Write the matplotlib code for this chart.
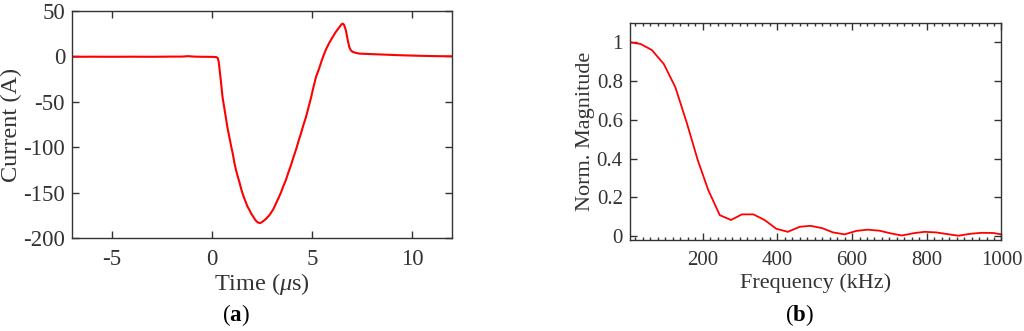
import matplotlib
matplotlib.use("Agg")
import matplotlib.pyplot as plt
from matplotlib.ticker import MultipleLocator

plt.rcParams['font.family'] = ['Liberation Serif', 'DejaVu Serif']
plt.rcParams['mathtext.fontset'] = 'custom'
plt.rcParams['mathtext.rm'] = 'Liberation Serif'
plt.rcParams['mathtext.it'] = 'Liberation Serif:italic'
plt.rcParams['mathtext.bf'] = 'Liberation Serif:bold'

# (a) current pulse
time_us = [-7.0, -6.0, -5.0, -4.0, -3.0, -2.0, -1.5, -1.2, -0.9, -0.5, 0.0, 0.2, 0.28,
           0.33, 0.37, 0.45, 0.53, 0.62, 0.7, 0.78, 0.87, 0.96, 1.05, 1.12, 1.2, 1.3,
           1.38, 1.45, 1.53, 1.62, 1.7, 1.78, 1.87, 1.96, 2.05, 2.12, 2.2, 2.3, 2.4,
           2.47, 2.53, 2.62, 2.7, 2.78, 2.87, 2.96, 3.05, 3.12, 3.2, 3.32, 3.45, 3.57,
           3.7, 3.82, 3.95, 4.07, 4.2, 4.32, 4.45, 4.57, 4.7, 4.82, 4.95, 5.07, 5.2,
           5.35, 5.5, 5.6, 5.7, 5.87, 6.03, 6.2, 6.37, 6.47, 6.53, 6.6, 6.7, 6.78,
           6.87, 6.95, 7.03, 7.2, 7.37, 7.9, 8.5, 9.3, 10.2, 11.0, 12.0]
current_a = [-0.5, -0.4, -0.5, -0.4, -0.5, -0.3, -0.3, 0.2, -0.3, -0.5, -0.6, -0.8, -1.5,
             -5.0, -12.0, -28.0, -45.0, -57.0, -68.0, -79.0, -89.0, -99.0, -108.0,
             -117.0, -125.0, -133.0, -139.0, -145.0, -151.0, -156.5, -161.0, -165.5,
             -169.0, -173.0, -176.0, -178.5, -181.0, -183.0, -183.5, -183.0, -182.0,
             -180.5, -179.0, -177.0, -175.0, -172.0, -169.0, -166.0, -162.0, -156.5,
             -150.0, -143.0, -136.0, -128.0, -120.0, -111.5, -103.0, -94.0, -85.0,
             -76.0, -67.0, -57.0, -46.0, -34.5, -23.0, -14.0, -4.0, 2.0, 7.5, 15.0,
             21.0, 27.0, 32.0, 35.0, 36.0, 35.0, 28.5, 19.0, 10.0, 6.5, 5.0, 3.8, 3.0,
             2.5, 2.0, 1.3, 0.7, 0.3, 0.0]

# (b) normalised spectrum
freq_khz = [5, 34, 64, 96, 127, 158, 187, 215, 246, 276, 305, 336, 366, 397, 428, 460,
            489, 520, 549, 580, 612, 642, 673, 704, 733, 765, 794, 825, 856, 885, 917,
            947, 978, 1000]
norm_mag = [1.0, 0.991, 0.96, 0.888, 0.768, 0.582, 0.392, 0.238, 0.108, 0.083, 0.112,
            0.112, 0.083, 0.038, 0.022, 0.048, 0.053, 0.041, 0.019, 0.009, 0.027, 0.033,
            0.028, 0.014, 0.003, 0.015, 0.022, 0.019, 0.010, 0.002, 0.012, 0.017, 0.016,
            0.009]

fig = plt.figure(figsize=(10.24, 3.31), dpi=100)
ax1 = fig.add_axes([0.0703, 0.281, 0.371, 0.686])
ax2 = fig.add_axes([0.615, 0.275, 0.363, 0.656])

for ax in (ax1, ax2):
    for s in ax.spines.values():
        s.set_color('#333333')
        s.set_linewidth(1.0)
    ax.tick_params(which='both', direction='in', top=True, right=True, color='#333333')
    ax.tick_params(which='major', length=5, width=1.0, pad=5)
    ax.tick_params(which='minor', length=2.5, width=1.0)
    ax.tick_params(axis='x', which='major', pad=8)

ax1.plot(time_us, current_a, color='#ff0000', linewidth=1.5)
ax1.set_xlim(-7, 12)
ax1.set_ylim(-200, 50)
ax1.set_xticks([-5, 0, 5, 10])
ax1.set_xticklabels(['-5', '0', '5', '10'])
ax1.set_yticks([-200, -150, -100, -50, 0, 50])
ax1.set_yticklabels(['-200', '-150', '-100', '-50', '0', '50'])
ax1.tick_params(labelsize=16.5, colors='#333333')
ax1.set_xlabel(r'Time ($\mu$s)', fontsize=17.5, labelpad=1, color='#333333')
ax1.set_ylabel('Current (A)', fontsize=17.5, labelpad=1, color='#333333')

ax2.plot(freq_khz, norm_mag, color='#ff0000', linewidth=1.3)
ax2.set_xlim(5, 1000)
ax2.set_ylim(-0.02, 1.1)
ax2.set_xticks([200, 400, 600, 800, 1000])
ax2.xaxis.set_minor_locator(MultipleLocator(20))
ax2.set_yticks([0, 0.2, 0.4, 0.6, 0.8, 1.0])
ax2.set_yticklabels(['0', '0.2', '0.4', '0.6', '0.8', '1'])
ax2.tick_params(labelsize=15, colors='#333333')
ax2.set_xlabel('Frequency (kHz)', fontsize=16, labelpad=2, color='#333333')
ax2.set_ylabel('Norm. Magnitude', fontsize=16, labelpad=1, color='#333333')

fig.text(0.2305, 0.048, r'($\mathbf{a}$)', ha='center', va='center', fontsize=16.5)
fig.text(0.781, 0.048, r'($\mathbf{b}$)', ha='center', va='center', fontsize=16.5)

fig.savefig('out.png', dpi=100)
